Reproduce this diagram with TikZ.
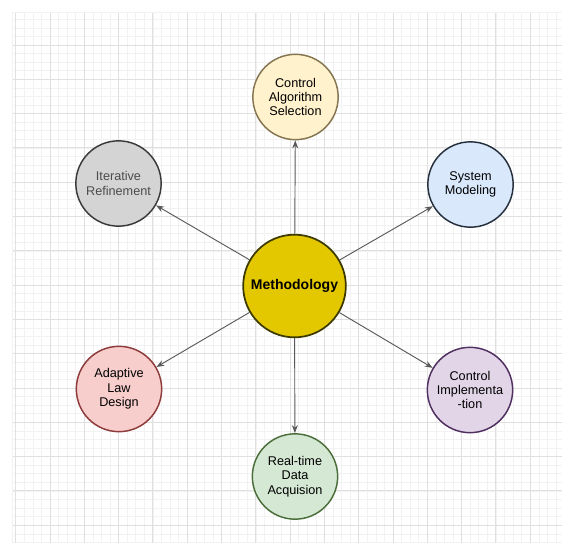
\documentclass[tikz,border=0pt]{standalone}
\usepackage{fontspec}
\setmainfont{Liberation Sans}
\usepackage{xcolor}
\usepackage{tikz}
\usetikzlibrary{positioning,arrows.meta}
\definecolor{hubfill}{HTML}{E3C800}
\definecolor{hubline}{HTML}{3D3A00}
\definecolor{yellowfill}{HTML}{FFF2CC}
\definecolor{yellowline}{HTML}{857550}
\definecolor{grayfill}{HTML}{D4D4D4}
\definecolor{grayline}{HTML}{3A3A3A}
\definecolor{bluefill}{HTML}{DAE8FC}
\definecolor{blueline}{HTML}{25303D}
\definecolor{redfill}{HTML}{F8CECC}
\definecolor{redline}{HTML}{8E3B3B}
\definecolor{purplefill}{HTML}{E1D5E7}
\definecolor{purpleline}{HTML}{503060}
\definecolor{greenfill}{HTML}{D5E8D4}
\definecolor{greenline}{HTML}{4B6E3A}
\definecolor{dark}{HTML}{1F2937}
\tikzset{
    phase/.style={circle, draw, line width=1.1pt, minimum size=64pt, inner sep=0pt, align=center, font=\fontsize{9.5}{10.8}\selectfont},
    hub/.style={circle, draw=hubline, fill=hubfill, line width=1.3pt, minimum size=77pt, inner sep=0pt, font=\fontsize{10.5}{12}\selectfont\bfseries},
    arrow/.style={-{Stealth[length=6pt,width=4.5pt]}, line width=0.7pt, color=black!65},
    gridminor/.style={line width=0.4pt, color=black!5},
    gridmajor/.style={line width=0.7pt, color=black!12}
}

\begin{document}
\begin{tikzpicture}[x=0.75pt, y=-0.75pt]

\useasboundingbox (0,0) rectangle (562,543);

% Background grid
\begin{scope}
\clip (12,12) rectangle (562,543);
\foreach \k in {0,...,64} {
    \draw[gridminor] ({15.7+8.575*\k},12) -- ({15.7+8.575*\k},543);
    \draw[gridminor] (12,{10.7+8.575*\k}) -- (562,{10.7+8.575*\k});
}
\foreach \k in {0,...,16} {
    \draw[gridmajor] ({15.7+34.3*\k},12) -- ({15.7+34.3*\k},543);
    \draw[gridmajor] (12,{10.7+34.3*\k}) -- (562,{10.7+34.3*\k});
}
\draw[gridminor] (12,543) -- (12,12) -- (562,12);
\end{scope}

% Hub
\node[hub] at (294.5,286) (meth) {Methodology};

% Phases
\node[phase, fill=yellowfill, draw=yellowline] at (295.5,97) (sel) {Control\\Algorithm\\Selection};
\node[phase, fill=bluefill, draw=blueline] at (470.5,184.5) (model) {System\\Modeling};
\node[phase, fill=purplefill, draw=purpleline] at (470,390) (impl) {Control\\Implementa\\-tion};
\node[phase, fill=greenfill, draw=greenline] at (295,476.5) (daq) {Real-time\\Data\\Acquision};
\node[phase, fill=redfill, draw=redline] at (119,389) (law) {Adaptive\\Law\\Design};
\node[phase, fill=grayfill, draw=grayline, text=black!70] at (118.5,183.5) (refine) {Iterative\\Refinement};

\draw[arrow] (meth) -- (sel);
\draw[arrow] (meth) -- (model);
\draw[arrow] (meth) -- (impl);
\draw[arrow] (meth) -- (daq);
\draw[arrow] (meth) -- (law);
\draw[arrow] (meth) -- (refine);

\end{tikzpicture}
\end{document}
